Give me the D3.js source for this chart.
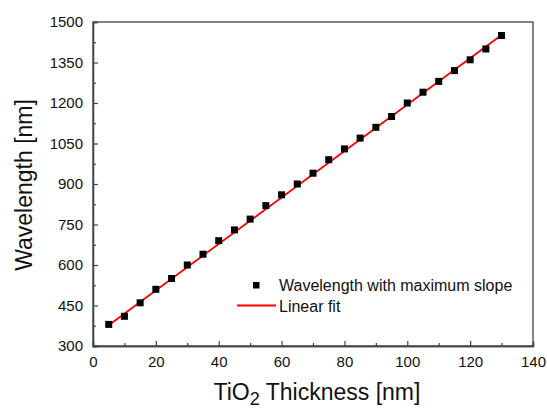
<!DOCTYPE html>
<html>
<head>
<meta charset="utf-8">
<script src="https://cdn.jsdelivr.net/npm/d3@7"></script>
<style>
  body { margin: 0; background: #fff; }
  text { font-family: "Liberation Sans", Arial, sans-serif; fill: #111; }
</style>
</head>
<body>
<div id="chart"></div>
<script>
// measured points: TiO2 thickness (nm) vs wavelength with maximum slope (nm)
var thickness = [5, 10, 15, 20, 25, 30, 35, 40, 45, 50, 55, 60, 65,
                 70, 75, 80, 85, 90, 95, 100, 105, 110, 115, 120, 125, 130];
var wavelength = [380, 410, 460, 510, 550, 600, 640, 690, 730, 770, 820, 860, 900,
                  940, 990, 1030, 1070, 1110, 1150, 1200, 1240, 1280, 1320, 1360, 1400, 1450];
// linear fit end points
var fitX = [5, 130];
var fitY = [377, 1452];

var xTicks = [0, 20, 40, 60, 80, 100, 120, 140];
var yTicks = [300, 450, 600, 750, 900, 1050, 1200, 1350, 1500];
var legendLabels = ["Wavelength with maximum slope", "Linear fit"];

var width = 547, height = 409;
var pLeft = 93, pRight = 533, pTop = 22, pBottom = 346;

var svg = d3.select("#chart").append("svg")
  .attr("width", width)
  .attr("height", height);

var x = d3.scaleLinear().domain([0, 140]).range([pLeft, pRight]);
var y = d3.scaleLinear().domain([300, 1500]).range([pBottom, pTop]);

var axisColor = "#444";

// frame
svg.append("rect")
  .attr("x", pLeft).attr("y", pTop)
  .attr("width", pRight - pLeft).attr("height", pBottom - pTop)
  .attr("fill", "none").attr("stroke", axisColor).attr("stroke-width", 1.3);

// minor ticks (inward)
var xMinor = d3.range(10, 140, 20);
var yMinor = d3.range(375, 1500, 150);

svg.append("g").attr("transform", "translate(0," + pBottom + ")")
  .call(d3.axisBottom(x).tickValues(xTicks).tickSize(-5).tickPadding(10).tickFormat(d3.format("d")));
svg.append("g").attr("transform", "translate(0," + pBottom + ")")
  .call(d3.axisBottom(x).tickValues(xMinor).tickSize(-3).tickFormat(""));

svg.append("g").attr("transform", "translate(" + pLeft + ",0)")
  .call(d3.axisLeft(y).tickValues(yTicks).tickSize(-5).tickPadding(10).tickFormat(d3.format("d")));
svg.append("g").attr("transform", "translate(" + pLeft + ",0)")
  .call(d3.axisLeft(y).tickValues(yMinor).tickSize(-3).tickFormat(""));

svg.selectAll(".domain").attr("stroke", axisColor).attr("stroke-width", 1.3);
svg.selectAll(".tick line").attr("stroke", axisColor).attr("stroke-width", 1.2);
svg.selectAll(".tick text")
  .style("font-family", "'Liberation Sans', Arial, sans-serif")
  .style("font-size", "15px").attr("fill", "#111");

// axis titles
svg.append("text")
  .attr("x", (pLeft + pRight) / 2 + 4).attr("y", 400)
  .attr("text-anchor", "middle")
  .style("font-size", "23px")
  .html('TiO<tspan dy="4.5" font-size="18px">2</tspan><tspan dy="-4.5"> Thickness [nm]</tspan>');

svg.append("text")
  .attr("transform", "translate(32," + ((pTop + pBottom) / 2 + 1) + ") rotate(-90)")
  .attr("text-anchor", "middle")
  .style("font-size", "23px")
  .text("Wavelength [nm]");

// linear fit
var line = d3.line().x(function(d) { return x(d[0]); }).y(function(d) { return y(d[1]); });
svg.append("path")
  .datum(d3.zip(fitX, fitY))
  .attr("d", line)
  .attr("fill", "none")
  .attr("stroke", "#f00")
  .attr("stroke-width", 1.8);

// data markers
var ms = 7;
svg.selectAll("rect.pt")
  .data(d3.zip(thickness, wavelength))
  .enter()
  .append("rect")
  .attr("class", "pt")
  .attr("x", function(d) { return x(d[0]) - ms / 2; })
  .attr("y", function(d) { return y(d[1]) - ms / 2; })
  .attr("width", ms).attr("height", ms)
  .attr("fill", "#000");

// legend
var lg = svg.append("g");
lg.append("rect").attr("x", 253).attr("y", 282).attr("width", 6.5).attr("height", 6.5).attr("fill", "#000");
lg.append("text").attr("x", 279).attr("y", 291).style("font-size", "16px").text(legendLabels[0]);
lg.append("line").attr("x1", 237).attr("x2", 276).attr("y1", 305.5).attr("y2", 305.5)
  .attr("stroke", "#f00").attr("stroke-width", 1.8);
lg.append("text").attr("x", 279).attr("y", 311.5).style("font-size", "16px").text(legendLabels[1]);
</script>
</body>
</html>
